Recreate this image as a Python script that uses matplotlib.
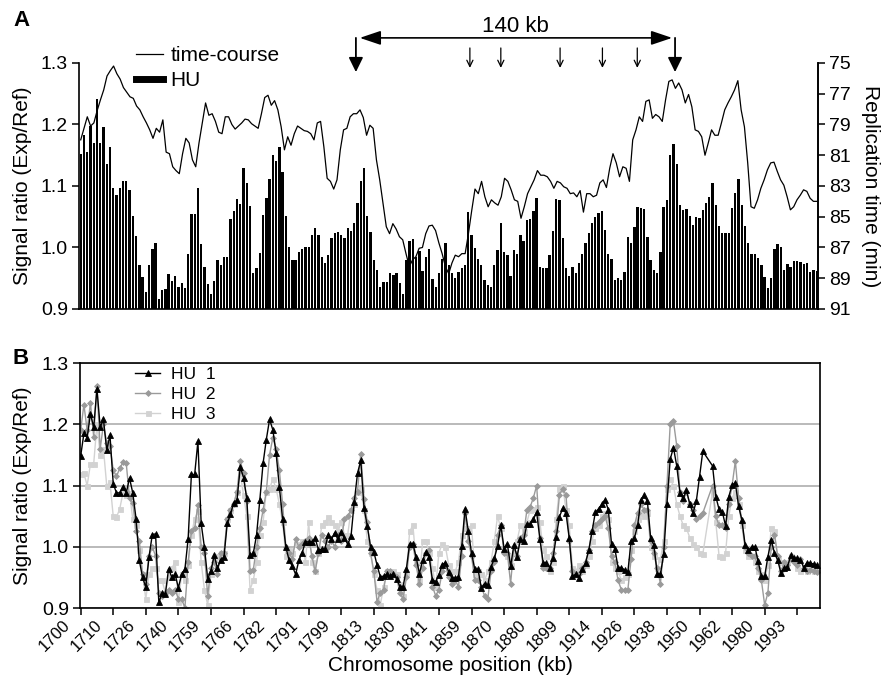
import numpy as np
import matplotlib
matplotlib.use("Agg")
import matplotlib.pyplot as plt
from matplotlib.lines import Line2D
from matplotlib.patches import ArrowStyle
from matplotlib.transforms import blended_transform_factory, ScaledTranslation

plt.rcParams['font.family'] = ['Liberation Sans', 'DejaVu Sans']

# probe positions (kb) labelled every 10th probe
tick_labels = ['1700', '1710', '1726', '1740', '1759', '1766', '1782', '1791',
               '1799', '1813', '1830', '1841', '1859', '1870', '1880', '1899',
               '1914', '1926', '1938', '1950', '1962', '1980', '1993']
tick_step = 10

# panel A: mean HU signal ratio per probe
hu_mean = [
    1.152, 1.183, 1.155, 1.197, 1.170, 1.242, 1.170, 1.196, 1.136, 1.164,
    1.096, 1.085, 1.096, 1.108, 1.108, 1.094, 1.051, 1.018, 0.971, 0.952,
    0.928, 0.971, 0.998, 1.008, 0.917, 0.931, 0.932, 0.957, 0.946, 0.954,
    0.935, 0.942, 0.934, 0.989, 1.055, 1.055, 1.096, 1.006, 0.968, 0.940,
    0.925, 0.945, 0.979, 0.971, 0.984, 0.984, 1.046, 1.059, 1.079, 1.071,
    1.129, 1.105, 1.067, 0.958, 0.966, 0.991, 1.053, 1.081, 1.111, 1.151,
    1.140, 1.163, 1.122, 1.052, 1.000, 0.979, 0.979, 0.992, 0.997, 1.000,
    1.000, 1.021, 1.031, 1.021, 0.984, 0.974, 0.987, 1.015, 1.023, 1.025,
    1.020, 1.016, 1.031, 1.027, 1.040, 1.073, 1.108, 1.130, 1.052, 1.025,
    0.980, 0.964, 0.935, 0.944, 0.944, 0.959, 0.956, 0.959, 0.942, 0.925,
    0.980, 1.011, 1.014, 0.984, 0.994, 0.961, 0.984,
    0.997, 0.948, 0.936, 0.958, 0.982, 1.008, 0.972, 0.958, 0.950, 0.960,
    0.966, 0.972, 1.058, 1.020, 0.999, 0.982, 0.972, 0.947, 0.939, 0.935,
    0.972, 0.996, 1.039, 0.993, 0.988, 0.954, 0.996, 0.990, 1.020, 1.011,
    1.045, 1.047, 1.060, 1.081, 0.969, 0.966, 0.966, 0.988, 1.027, 1.079, 1.078,
    1.015, 0.966, 0.953, 0.969, 0.958, 0.974, 0.990, 1.007, 1.023, 1.040,
    1.050, 1.056, 1.059, 1.028, 0.990, 0.982, 0.947, 0.950, 0.947, 0.960, 1.017,
    1.007, 1.034, 1.066, 1.064, 1.062, 1.017, 0.980, 0.963, 0.958, 0.993,
    1.066, 1.077, 1.151, 1.168, 1.135, 1.069, 1.061, 1.063, 1.051, 1.037,
    1.050, 1.048, 1.061, 1.072, 1.082, 1.105, 1.069, 1.035, 1.024, 1.024,
    1.024, 1.064, 1.089, 1.111, 1.069, 1.035, 1.007, 0.990, 0.990, 0.983,
    0.971, 0.952, 0.934, 0.950, 0.998, 1.006, 1.000, 0.963, 0.973, 0.968,
    0.978, 0.978, 0.976, 0.973, 0.975, 0.960, 0.963, 0.961,
]

# panel A: replication time from the time-course experiment (min)
time_course = [
    80.0, 79.25, 78.5, 79.1, 78.9, 78.1, 77.4, 76.75, 75.85, 75.5,
    75.2, 75.7, 76.05, 76.6, 76.9, 77.2, 77.3, 77.8, 78.05, 78.5,
    78.9, 79.35, 79.9, 79.25, 79.5, 78.7, 80.8, 80.9, 81.75, 82.0,
    82.2, 80.9, 79.9, 80.2, 81.3, 81.75, 80.2, 78.9, 77.6, 78.4,
    78.3, 78.8, 79.5, 79.6, 78.5, 78.5, 79.0, 79.3, 79.1, 78.9,
    78.65, 78.7, 78.95, 79.1, 79.25, 78.3, 77.25, 77.1, 77.75, 77.45,
    78.05, 79.15, 80.65, 79.8, 80.35, 79.6, 79.1, 79.25, 79.4, 79.45,
    79.6, 80.0, 78.9, 78.8, 80.45, 82.5, 82.7, 83.2, 82.6, 80.65,
    79.35, 79.25, 78.5, 78.3, 78.3, 78.05, 78.55, 79.7, 79.05, 79.25,
    81.3, 82.6, 84.1, 85.65, 86.1, 85.45, 85.8, 86.3, 86.5, 87.4,
    88.25, 87.8, 87.6, 87.05, 87.0, 86.1, 85.6,
    85.55, 85.9, 86.7, 87.4, 88.25, 88.7, 88.0, 87.5, 87.6, 87.4,
    87.4, 86.1, 84.6, 83.2, 83.5, 82.7, 83.7, 84.35, 83.9, 84.1,
    84.25, 83.7, 82.5, 82.7, 83.25, 83.9, 84.0, 85.1, 84.35, 83.5,
    83.05, 82.6, 82.0, 82.3, 82.3, 82.4, 82.7, 83.15, 82.7, 82.8,
    83.05, 83.15, 83.5, 83.45, 83.7, 83.3, 84.7, 83.5, 83.5, 83.7,
    83.6, 82.8, 82.6, 83.1, 81.85, 80.9, 81.5, 82.4, 81.75, 81.85,
    82.7, 80.0, 79.35, 78.5, 78.8, 77.5, 77.4, 78.6, 78.35, 78.5,
    78.8, 77.4, 76.2, 76.1, 76.65, 76.3, 76.75, 77.6, 77.05, 77.85,
    79.35, 79.45, 79.8, 81.0, 80.2, 79.35, 79.7, 79.7, 78.9, 78.05,
    77.6, 77.2, 76.75, 76.15, 78.05, 79.15, 81.5, 84.35, 84.45, 83.9,
    83.15, 82.6, 81.95, 81.5, 81.45, 82.05, 82.6, 82.95, 83.7, 84.55,
    84.35, 83.9, 83.6, 83.25, 83.35, 83.8, 84.0, 84.0,
]

nan = np.nan

# panel B: three HU replicates (nan = probe missing)
hu1 = [
    1.148, 1.185, 1.178, 1.217, 1.195, 1.258, 1.195, 1.208, 1.158, 1.182,
    1.103, 1.088, 1.088, 1.098, 1.088, 1.112, 1.088, 1.046, 0.978, 0.950,
    0.934, 0.984, 1.020, 1.021, 0.909, 0.924, 0.923, 0.964, 0.950, 0.955,
    0.933, 0.955, 0.963, 1.013, 1.118, 1.118, 1.172, 1.038, 0.999, 0.948,
    0.961, 0.986, 0.965, 0.979, 0.983, 1.038, 1.053, 1.072, 1.076, 1.130,
    1.113, 1.079, 0.986, 0.989, 1.019, 1.076, 1.136, 1.175, 1.208, 1.191,
    1.153, 1.098, 1.045, 0.999, 0.978, 0.968, 0.955, 0.978, 0.990, 1.008,
    1.008, 1.008, 1.014, 0.995, 0.996, 0.997, 1.020, 1.012, 1.023, 1.012,
    1.024, 1.014, 1.004, 1.017, 1.073, 1.120, 1.141, 1.063, 1.034, 1.000,
    0.992, 0.970, 0.951, 0.952, 0.955, 0.952, 0.956, 0.948, 0.935, 0.935,
    0.964, 1.005, 1.005, 0.983, 0.956, 0.978, 0.992,
    0.983, 0.946, 0.943, 0.954, 0.971, 0.974, 0.959, 0.949, 0.949, 0.951,
    1.001, 1.062, 1.026, 0.990, 0.963, 0.963, 0.933, 0.940, 0.937, 0.967,
    0.981, 1.001, 1.035, 0.997, 1.005, 0.968, 1.003, 0.984, 1.012, 1.010,
    1.037, 1.037, 1.045, 1.056, 1.012, 0.974, 0.974, 0.966, 0.981, 1.016, 1.049,
    1.063, 1.055, 1.014, 0.952, 0.955, 0.949, 0.963, 0.974, 0.994, 1.025,
    1.056, 1.062, 1.069, 1.077, 1.060, 1.004, 0.997, 0.966, 0.966, 0.962, 0.959,
    1.010, 1.014, 1.035, 1.076, 1.084, 1.074, 1.014, 1.003, 0.956, 0.955,
    0.988, 1.070, 1.143, 1.162, 1.132, 1.088, 1.079, 1.092, 1.070, 1.055,
    1.074, 1.114, 1.156, nan, nan, 1.132, 1.082, 1.061, 1.057, 1.034,
    1.082, 1.101, 1.104, 1.066, 1.044, 1.003, 0.995, 0.999, 1.000, 0.976,
    0.952, 0.952, 0.984, 1.011, 0.990, 0.978, 0.957, 0.966, 0.967, 0.986,
    0.981, 0.981, 0.979, 0.966, 0.974, 0.973, 0.972, 0.970,
]

hu2 = [
    1.190, 1.232, 1.190, 1.235, 1.180, 1.262, 1.160, 1.200, 1.170, 1.165,
    1.125, 1.115, 1.128, 1.138, 1.136, 1.080, 1.072, 1.025, 1.010, 0.955,
    0.940, 0.985, 1.000, 0.985, 0.925, 0.920, 0.925, 0.930, 0.925, 0.930,
    0.915, 0.915, 0.900, 0.975, 1.025, 1.030, 1.068, 1.000, 0.990, 0.920,
    0.965, 0.975, 0.955, 0.990, 0.990, 1.045, 1.060, 1.070, 1.090, 1.140,
    1.120, 1.075, 0.960, 0.962, 1.000, 1.030, 1.060, 1.090, 1.150, 1.178,
    1.160, 1.125, 1.070, 1.000, 0.990, 0.980, 1.012, 1.000, 1.005, 1.010,
    1.015, 0.985, 0.960, 0.990, 1.020, 1.010, 1.000, 1.010, 1.000, 1.020,
    1.010, 1.045, 1.050, 1.060, 1.080, 1.090, 1.152, 1.078, 1.040, 0.990,
    0.960, 0.910, 0.925, 0.930, 0.960, 0.960, 0.955, 0.950, 0.925, 0.915,
    0.950, 1.000, 1.005, 0.970, 0.940, 0.965, 0.990,
    0.995, 0.935, 0.920, 0.930, 0.960, 0.970, 0.950, 0.940, 0.945, 0.935,
    0.985, 1.055, 1.010, 0.985, 0.945, 0.945, 0.935, 0.920, 0.915, 0.960,
    0.975, 1.020, 1.035, 0.990, 0.990, 0.940, 1.000, 0.985, 1.015, 1.020,
    1.060, 1.065, 1.080, 1.100, 1.015, 0.965, 0.965, 0.965, 0.990, 1.025, 1.085,
    1.095, 1.085, 1.010, 0.960, 0.955, 0.955, 0.965, 0.975, 0.995, 1.025,
    1.035, 1.040, 1.045, 1.050, 1.030, 0.985, 0.975, 0.945, 0.930, 0.930, 0.930,
    0.980, 1.035, 1.055, 1.070, 1.060, 1.060, 1.010, 0.990, 0.965, 0.940,
    1.000, 1.100, 1.200, 1.205, 1.165, 1.090, 1.075, 1.090, 1.070, 1.060,
    1.045, 1.050, 1.055, nan, nan, 1.100, 1.050, 1.035, 1.035, 1.030,
    1.070, 1.100, 1.140, 1.080, 1.040, 1.000, 0.990, 0.985, 0.985, 0.965,
    0.945, 0.905, 0.925, 1.000, 1.020, 0.985, 0.960, 0.975, 0.970, 0.980,
    0.975, 0.970, 0.980, 0.965, 0.960, 0.962, 0.960, 0.958,
]

hu3 = [
    1.118, 1.120, 1.100, 1.135, 1.135, 1.200, 1.150, 1.160, 1.100, 1.105,
    1.050, 1.048, 1.062, 1.088, 1.085, 1.088, 1.045, 1.035, 0.995, 0.955,
    0.915, 0.955, 0.965, 0.965, 0.945, 0.945, 0.925, 0.950, 0.965, 0.975,
    0.910, 0.955, 0.945, 0.970, 1.020, 1.045, 1.058, 0.975, 0.930, 0.905,
    0.955, 0.980, 0.985, 0.990, 0.990, 1.045, 1.060, 1.070, 1.090, 1.120,
    1.085, 1.050, 0.930, 0.945, 0.975, 1.020, 1.040, 1.090, 1.095, 1.110,
    1.095, 1.070, 1.040, 0.985, 0.995, 0.990, 1.005, 1.005, 1.010, 0.975,
    1.040, 0.975, 0.960, 0.990, 1.035, 1.040, 1.048, 1.040, 1.035, 1.025,
    1.040, 1.020, 1.020, 1.060, 1.070, 1.090, 1.095, 1.060, 1.010, 0.990,
    0.955, 0.930, 0.905, 0.935, 0.960, 0.960, 0.960, 0.955, 0.940, 0.920,
    0.955, 1.025, 1.035, 0.975, 0.945, 1.010, 1.010,
    0.990, 0.965, 0.935, 0.990, 1.005, 1.000, 0.970, 0.960, 0.960, 0.975,
    1.020, 1.030, 1.030, 1.035, 0.955, 0.960, 0.955, 0.945, 0.960, 0.975,
    1.010, 1.050, 1.030, 0.995, 0.985, 0.970, 0.990, 1.010, 1.035, 1.025,
    1.040, 1.060, 1.062, 1.065, 1.040, 0.995, 0.985, 0.960, 0.975, 1.045, 1.095,
    1.100, 1.060, 1.035, 0.965, 0.960, 0.970, 0.960, 0.970, 0.985, 1.010,
    1.030, 1.035, 1.050, 1.055, 1.045, 0.975, 0.965, 0.960, 0.945, 0.950, 0.955,
    0.995, 1.025, 1.045, 1.055, 1.050, 1.055, 1.000, 0.985, 0.965, 0.980,
    1.010, 1.095, 1.110, 1.100, 1.070, 1.050, 1.035, 1.030, 1.015, 1.005,
    1.000, 0.990, 0.988, nan, nan, 1.090, 1.040, 0.985, 0.983, 0.990,
    1.050, 1.080, 1.090, 1.070, 1.035, 0.995, 0.985, 0.985, 0.975, 0.960,
    0.955, 0.945, 0.970, 1.030, 1.025, 0.980, 0.975, 0.970, 0.975, 0.985,
    0.980, 0.965, 0.960, 0.965, 0.960, 0.965, 0.960, 0.962,
]

# probe index of the two flanking origins (140 kb apart) and the small ones between
span_ends = [84.5, 182.5]
origin_marks = [119.5, 129.0, 147.2, 160.2, 170.9]

fig = plt.figure(figsize=(8.83, 6.83), dpi=100)
axA = fig.add_axes([0.0895, 0.5476, 0.8369, 0.3602])
axB = fig.add_axes([0.0906, 0.1098, 0.8381, 0.3587])

# ---------------- panel A ----------------
axA.bar(np.arange(len(hu_mean)), hu_mean, width=0.72, color='black', linewidth=0)
axA.set_xlim(-0.52, 226.4)
axA.set_ylim(0.9, 1.3)
axA.set_yticks([0.9, 1.0, 1.1, 1.2, 1.3])
axA.set_yticklabels(['0.9', '1.0', '1.1', '1.2', '1.3'])
axA.set_xticks([])
axA.spines['top'].set_visible(False)
for s in ['left', 'right', 'bottom']:
    axA.spines[s].set_linewidth(1.2)
axA.tick_params(axis='y', direction='out', length=5, width=1.1, labelsize=14, pad=3)
axA.set_ylabel('Signal ratio (Exp/Ref)', fontsize=15)
axA.yaxis.set_label_coords(-0.0765, 0.5)
axA.yaxis.label.set_va('center')

axA2 = axA.twinx()
axA2.plot(np.linspace(0, 226, len(time_course)), time_course, color='black', lw=0.9)
axA2.set_ylim(91, 75)
axA2.set_yticks(range(75, 92, 2))
for s in ['top', 'left', 'bottom']:
    axA2.spines[s].set_visible(False)
axA2.spines['right'].set_linewidth(1.2)
axA2.tick_params(axis='y', direction='out', length=5, width=1.1, labelsize=14, pad=3)
axA2.set_ylabel('Replication time (min)', fontsize=15, rotation=270)
axA2.yaxis.set_label_coords(1.0704, 0.5)
axA2.yaxis.label.set_va('center')

handles_a = [Line2D([], [], color='black', lw=0.9), Line2D([], [], color='black', lw=5)]
axA.legend(handles_a, ['time-course', 'HU'], loc='upper left', frameon=False,
           bbox_to_anchor=(136 / 883, 1 - 46 / 683), bbox_transform=fig.transFigure,
           fontsize=15, handlelength=1.3, handletextpad=0.35, labelspacing=0.3,
           borderpad=0, borderaxespad=0)

# arrows marking the origins above panel A
trans = blended_transform_factory(axA.transData, axA.transAxes)
big_head = ArrowStyle('-|>', head_length=0.55, head_width=0.27)
for xs in span_ends:
    axA.annotate('', xy=(xs, 0.963), xycoords=trans, xytext=(xs, 1.102), textcoords=trans,
                 arrowprops=dict(arrowstyle=big_head, color='black', lw=1.3,
                                 mutation_scale=16, shrinkA=0, shrinkB=0),
                 annotation_clip=False)
axA.annotate('', xy=(span_ends[1] - 0.9, 1.102), xycoords=trans,
             xytext=(span_ends[0] + 1.2, 1.102), textcoords=trans,
             arrowprops=dict(arrowstyle=ArrowStyle('<|-|>', head_length=0.8, head_width=0.27),
                             color='black', lw=1.2, mutation_scale=16, shrinkA=0, shrinkB=0),
             annotation_clip=False)
axA.text(np.mean(span_ends), 1.148, '140 kb', transform=trans, ha='center', va='center',
         fontsize=16)
for xs in origin_marks:
    axA.annotate('', xy=(xs, 0.98), xycoords=trans, xytext=(xs, 1.061), textcoords=trans,
                 arrowprops=dict(arrowstyle=ArrowStyle('->', head_length=0.45, head_width=0.22),
                                 color='black', lw=0.9, mutation_scale=10,
                                 shrinkA=0, shrinkB=0),
                 annotation_clip=False)

# ---------------- panel B ----------------
x = np.arange(len(hu1))
series = [
    (hu3, '#d2d2d2', 's', 3.6, 'HU  3'),
    (hu2, '#9a9a9a', 'D', 3.0, 'HU  2'),
    (hu1, 'black', '^', 4.6, 'HU  1'),
]
lines_b = []
for vals, col, mk, ms, lab in series:
    v = np.array(vals, dtype=float)
    ok = ~np.isnan(v)
    ln, = axB.plot(x[ok], v[ok], color=col, marker=mk, ms=ms, lw=1.0,
                   markeredgewidth=0.6, label=lab)
    lines_b.append(ln)

axB.set_xlim(-0.2, 227.0)
axB.set_ylim(0.9, 1.3)
axB.set_yticks([0.9, 1.0, 1.1, 1.2, 1.3])
axB.set_yticklabels(['0.9', '1.0', '1.1', '1.2', '1.3'])
axB.yaxis.grid(True, color='#b4b4b4', lw=1.3)
axB.set_axisbelow(True)
for s in axB.spines.values():
    s.set_linewidth(1.2)
axB.tick_params(axis='y', direction='out', length=5, width=1.1, labelsize=14, pad=3)
axB.tick_params(axis='x', direction='out', length=5, width=1.1, pad=5.5)
axB.set_xticks(np.arange(len(tick_labels)) * tick_step)
axB.set_xticklabels(tick_labels, rotation=45, ha='right', va='center',
                    rotation_mode='anchor', fontsize=12)
shift = ScaledTranslation(-0.13, 0, fig.dpi_scale_trans)
for lab in axB.get_xticklabels():
    lab.set_transform(lab.get_transform() + shift)

axB.set_ylabel('Signal ratio (Exp/Ref)', fontsize=15)
axB.yaxis.set_label_coords(-0.0774, 0.5)
axB.yaxis.label.set_va('center')
axB.set_xlabel('Chromosome position (kb)', fontsize=15)
axB.xaxis.set_label_coords(0.5, -0.234)
axB.xaxis.label.set_va('center')

axB.legend(lines_b[::-1], [ln.get_label() for ln in lines_b[::-1]], loc='upper left',
           frameon=False, bbox_to_anchor=(135 / 883, 1 - 367 / 683),
           bbox_transform=fig.transFigure, fontsize=12.5, handlelength=1.45,
           handletextpad=0.6, labelspacing=0.28, borderpad=0, borderaxespad=0,
           numpoints=1)

fig.text(13 / 883, 1 - 20 / 683, 'A', fontsize=16, fontweight='bold', va='center')
fig.text(13 / 883, 1 - 359 / 683, 'B', fontsize=16, fontweight='bold', va='center')

fig.savefig('out.png', dpi=100)
